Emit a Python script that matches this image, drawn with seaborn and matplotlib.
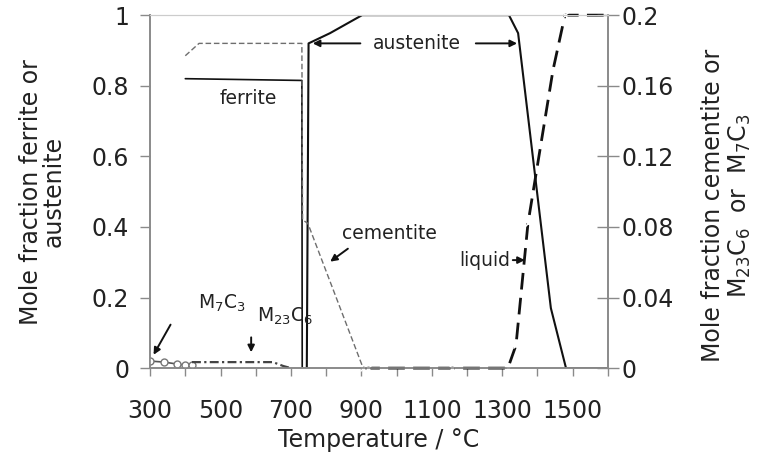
import matplotlib
matplotlib.use("Agg")
import matplotlib.pyplot as plt
import seaborn as sns

# phase fractions (temperature in degC)
ferrite_T = [400, 731, 732]
ferrite_frac = [0.82, 0.815, 0.0]

austenite_T = [745, 750, 811, 902, 1319, 1345, 1438, 1481, 1600]
austenite_frac = [0.0, 0.92, 0.949, 1.0, 1.0, 0.949, 0.17, 0.0, 0.0]

liquid_T = [905, 919, 1157, 1316, 1339, 1373, 1444, 1478, 1600]
liquid_frac = [0.0, 0.0, 0.0, 0.0, 0.065, 0.41, 0.844, 1.0, 1.0]

# right axis (carbides)
cementite_T = [400, 439, 731, 733, 748, 905]
cementite_frac = [0.177, 0.184, 0.184, 0.084, 0.082, 0.0]

m7c3_circ_T = [300, 340, 377, 399, 419]
m7c3_circ_frac = [0.004, 0.0034, 0.0023, 0.0017, 0.0017]

m7c3_T = [419, 649, 678, 700]
m7c3_frac = [0.0034, 0.0034, 0.0012, 0.0]

x_ticks = list(range(300, 1601, 100))
x_labels = [str(t) if (t - 300) % 200 == 0 and t <= 1500 else "" for t in x_ticks]
left_ticks = [0, 0.2, 0.4, 0.6, 0.8, 1]
left_labels = ["0", "0.2", "0.4", "0.6", "0.8", "1"]
right_ticks = [0, 0.04, 0.08, 0.12, 0.16, 0.2]
right_labels = ["0", "0.04", "0.08", "0.12", "0.16", "0.2"]

sns.set_style("white")
plt.rcParams["font.family"] = ["DejaVu Sans"]
txt = "#222222"
axc = "#8a8a8a"

fig, ax = plt.subplots(figsize=(7.58, 4.59), dpi=100)
fig.subplots_adjust(left=0.198, right=0.802, bottom=0.198, top=0.967)
ax2 = ax.twinx()

# left axis: ferrite, austenite, liquid
sns.lineplot(x=ferrite_T, y=ferrite_frac, ax=ax, color="#111111", lw=1.2)
sns.lineplot(x=austenite_T, y=austenite_frac, ax=ax, color="#111111", lw=1.5)
sns.lineplot(x=liquid_T, y=liquid_frac, ax=ax, color="#111111", lw=2,
             ls=(0, (6, 3)), marker="x", markersize=4, markeredgewidth=1,
             zorder=4, clip_on=False)

# right axis: cementite, M7C3
sns.lineplot(x=cementite_T, y=cementite_frac, ax=ax2, color="#6e6e6e", lw=1,
             ls=(0, (4, 2)))
sns.lineplot(x=m7c3_circ_T, y=m7c3_circ_frac, ax=ax2, color="#555555", lw=1.2,
             marker="o", markersize=5, markerfacecolor="white",
             markeredgecolor="#777777", markeredgewidth=1)
sns.lineplot(x=m7c3_T, y=m7c3_frac, ax=ax2, color="#444444", lw=1.6,
             ls=(0, (4, 1.5, 1, 1.5)))

ax.set_xlim(300, 1600)
ax.set_ylim(0, 1)
ax2.set_ylim(0, 0.2)

ax.set_xticks(x_ticks)
ax.set_xticklabels(x_labels)
ax.set_yticks(left_ticks)
ax.set_yticklabels(left_labels)
ax2.set_yticks(right_ticks)
ax2.set_yticklabels(right_labels)

ax.tick_params(axis="x", direction="out", length=6, width=1, color=axc,
               labelsize=17, labelcolor=txt, pad=16, bottom=True)
ax.tick_params(axis="y", direction="out", length=7, width=1, color=axc,
               labelsize=17, labelcolor=txt, pad=8, left=True)
ax2.tick_params(axis="y", direction="inout", length=16, width=1, color=axc,
                labelsize=17, labelcolor=txt, pad=2, right=True)

for a in (ax, ax2):
    for side in ("left", "right", "bottom"):
        a.spines[side].set_color(axc)
        a.spines[side].set_linewidth(1.2)
    a.spines["top"].set_color("#cccccc")
ax2.set_ylabel("")

ax.set_xlabel("Temperature / °C", fontsize=17, color=txt, labelpad=4)
ax.set_ylabel("")
ax.text(-0.235, 0.5, "Mole fraction ferrite or\naustenite", transform=ax.transAxes,
        rotation=90, ha="center", va="center", fontsize=17, color=txt,
        linespacing=0.95)
ax.text(1.26, 0.46, "Mole fraction cementite or\nM$_{23}$C$_6$  or  M$_7$C$_3$",
        transform=ax.transAxes, rotation=90, ha="center", va="center",
        fontsize=17, color=txt, linespacing=1.1)

# annotations
ann = dict(fontsize=13.5, color=txt)
arrow = dict(arrowstyle="-|>", color="#111111", lw=1.4, mutation_scale=10)
ax.text(578, 0.765, "ferrite", ha="center", va="center", **ann)
ax.text(1058, 0.92, "austenite", ha="center", va="center", **ann)
ax.annotate("", xy=(754, 0.92), xytext=(905, 0.92), arrowprops=arrow)
ax.annotate("", xy=(1350, 0.92), xytext=(1217, 0.92), arrowprops=arrow)
ax.text(981, 0.382, "cementite", ha="center", va="center", **ann)
ax.annotate("", xy=(805, 0.297), xytext=(868, 0.343), arrowprops=arrow)
ax.text(1251, 0.306, "liquid", ha="center", va="center", **ann)
ax.annotate("", xy=(1372, 0.306), xytext=(1322, 0.306), arrowprops=arrow)
ax.text(504, 0.184, "M$_7$C$_3$", ha="center", va="center", **ann)
ax.text(683, 0.147, "M$_{23}$C$_6$", ha="center", va="center", **ann)
ax.annotate("", xy=(306, 0.031), xytext=(362, 0.130), arrowprops=arrow)
ax.annotate("", xy=(587, 0.037), xytext=(587, 0.095), arrowprops=arrow)

fig.savefig("out.png", dpi=100)
